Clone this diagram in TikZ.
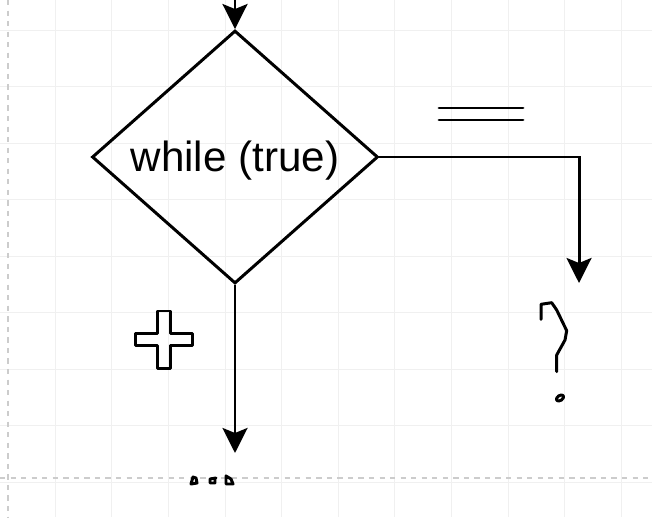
\documentclass[tikz,border=0pt]{standalone}
\usepackage{fontspec}
\setmainfont{Liberation Sans}
\usetikzlibrary{shapes.geometric,arrows.meta}
\begin{document}
\begin{tikzpicture}[x=0.02cm,y=-0.02cm]
        \tikzstyle{grid_style} = [draw=black!6,line width=0.5pt]
        \tikzstyle{page_style} = [draw=black!20,dashed,line width=0.6pt]
        \tikzstyle{decision_style} = [diamond,draw=black,line width=1.7pt,inner sep=0pt,
          minimum width=5.72cm,minimum height=5.06cm,font=\fontsize{24}{28}\selectfont]
        \tikzstyle{flow_style} = [draw=black,line width=1.7pt,
          -{Stealth[length=0.5cm,width=0.5cm,inset=0.1cm]}]
        \tikzstyle{sketch_style} = [draw=black,line width=1.7pt,line join=round,line cap=round]
        \useasboundingbox (0,0) rectangle (652,517);
        \fill[white] (0,0) rectangle (652,517);
        \foreach \gx in {-1.3,55.3,...,652} {\draw[grid_style] (\gx,0) -- (\gx,517);}
        \foreach \gy in {30,86.5,...,517} {\draw[grid_style] (0,\gy) -- (652,\gy);}
        \draw[page_style] (8,0) -- (8,517);
        \draw[page_style] (0,478) -- (652,478);
        \node[decision_style] (loop) at (235,157) {\smash{\raisebox{-0.3cm}{while (true)}}};
        \coordinate (entry) at (235,-2);
        \coordinate (falseend) at (579,283);
        \coordinate (trueend) at (235,453);
        \draw[flow_style] (entry) -- (loop.north);
        \draw[flow_style] (loop.east) -| (falseend);
        \draw[flow_style] (loop.south) -- (trueend);
        \draw[sketch_style] (439,108) -- (523,108);
        \draw[sketch_style] (439,120) -- (523,120);
        \draw[sketch_style] (157.3,311) -- (170.7,311) -- (170.7,333.3) -- (192.7,333.3)
          -- (192.7,345.7) -- (170.7,345.7) -- (170.7,368.7) -- (157.3,368.7) -- (157.3,345.7)
          -- (135.7,345.7) -- (135.7,333.3) -- (157.3,333.3) -- cycle;
        \draw[sketch_style] (541,319.3) -- (541,304.3) -- (551.7,302.7) -- (556.7,310) -- (566.7,330.7)
          -- (565,340) -- (556.7,355) -- (556.7,371.7);
        \draw[sketch_style,rotate around={35:(560,398)}] (560,398) ellipse [x radius=4,y radius=2.5];
        \draw[sketch_style] (191,484) -- (193,477) -- (196,478) -- (197,483) -- cycle;
        \draw[sketch_style] (216,478) -- (210,479) -- (210,483) -- (215,483) -- (215,478);
        \draw[sketch_style] (226,476) -- (226,484) -- (233,484) -- (231,479) -- cycle;
      \end{tikzpicture}
\end{document}
